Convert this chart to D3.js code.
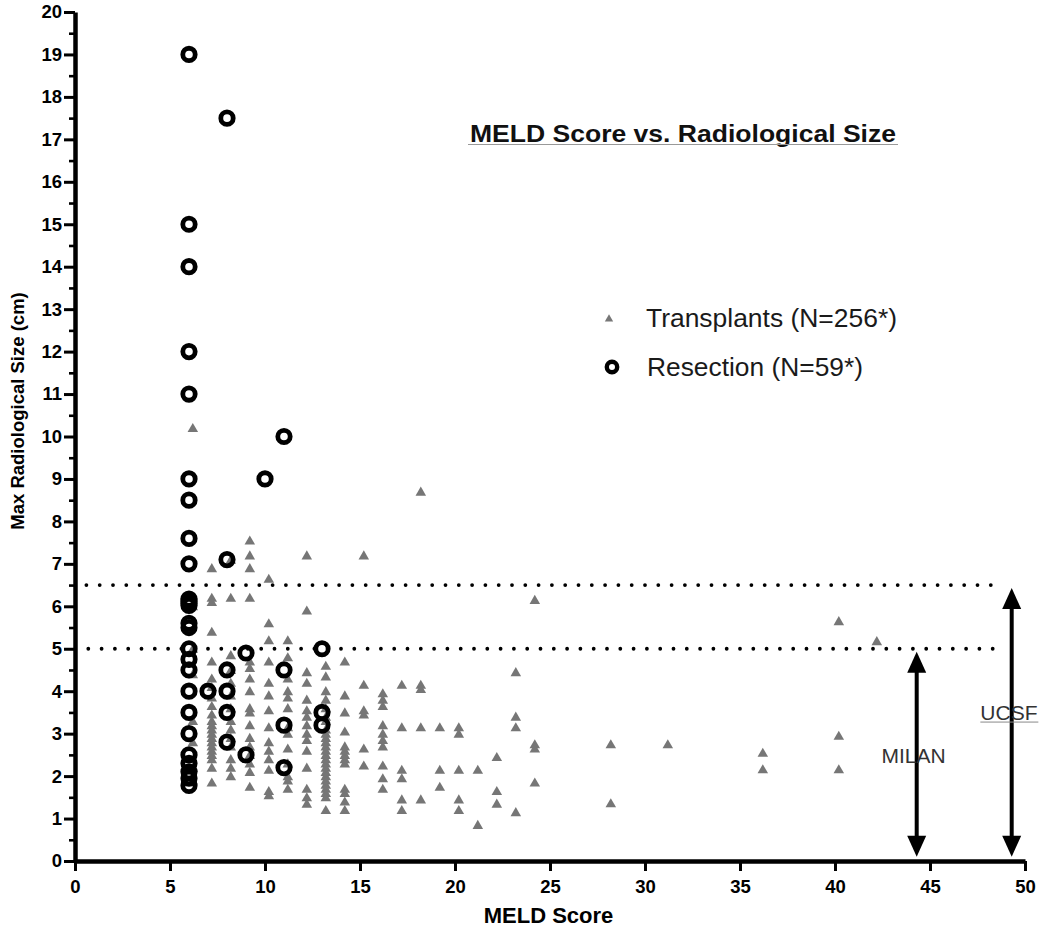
<!DOCTYPE html>
<html><head><meta charset="utf-8">
<script src="https://cdn.jsdelivr.net/npm/d3@7"></script>
<style>
body{margin:0;background:#fff}
svg{display:block}
text{font-family:"Liberation Sans",Arial,Helvetica,sans-serif}
</style>
</head><body>
<svg id="c" width="1050" height="932"></svg>
<script>
// ---------------- data ----------------
const xTicks = [0, 5, 10, 15, 20, 25, 30, 35, 40, 45, 50];
const yTicks = [0,1,2,3,4,5,6,7,8,9,10,11,12,13,14,15,16,17,18,19,20];
const yMinorTicks = [0.5,1.5,2.5,3.5,4.5,5.5,6.5,7.5,8.5,9.5,10.5,11.5,12.5,13.5,14.5,15.5,16.5,17.5,18.5,19.5];

// Transplants: [MELD score, [max radiological sizes]]
const transplantCols = [
  [6.2,  [10.2, 6.0, 5.0, 4.4, 3.3, 2.8, 2.2, 1.9]],
  [7.2,  [6.9, 6.2, 6.1, 5.4, 4.7, 4.3, 4.1, 3.85, 3.65, 3.45, 3.3, 3.2, 3.1, 3.0, 2.9, 2.8, 2.7, 2.6, 2.5, 2.4, 2.2, 1.85]],
  [8.2,  [7.1, 6.2, 4.85, 4.5, 4.2, 3.9, 3.6, 3.3, 3.1, 2.9, 2.7, 2.4, 2.2, 2.0]],
  [9.2,  [7.55, 7.2, 6.9, 6.2, 4.7, 4.55, 4.3, 4.0, 3.6, 3.5, 3.2, 2.9, 2.7, 2.5, 2.3, 2.1, 1.75]],
  [10.2, [6.65, 5.6, 5.2, 4.7, 4.2, 3.9, 3.55, 3.15, 2.8, 2.6, 2.4, 2.15, 1.65, 1.55]],
  [11.2, [5.2, 4.8, 4.3, 4.0, 3.85, 3.6, 3.15, 3.0, 2.65, 2.3, 2.0, 1.9, 1.7]],
  [12.2, [7.2, 5.9, 4.45, 4.2, 3.8, 3.55, 3.4, 3.2, 3.0, 2.85, 2.6, 2.2, 1.7, 1.5, 1.35]],
  [13.2, [4.6, 4.35, 4.0, 3.8, 3.6, 3.4, 3.3, 3.1, 3.0, 2.9, 2.8, 2.7, 2.6, 2.5, 2.4, 2.3, 2.2, 2.1, 2.0, 1.9, 1.8, 1.7, 1.6, 1.5, 1.2]],
  [14.2, [4.7, 3.9, 3.5, 3.05, 2.7, 2.6, 2.5, 2.4, 2.3, 1.7, 1.6, 1.4, 1.2]],
  [15.2, [7.2, 4.15, 3.55, 3.45, 2.65, 2.25]],
  [16.2, [3.95, 3.8, 3.65, 3.2, 3.0, 2.85, 2.7, 2.25, 1.95, 1.7]],
  [17.2, [4.15, 3.15, 2.15, 1.95, 1.45, 1.2]],
  [18.2, [8.7, 4.15, 4.05, 3.15, 1.45]],
  [19.2, [3.15, 2.15, 1.75]],
  [20.2, [3.15, 3.0, 2.15, 1.45, 1.2]],
  [21.2, [2.15, 0.85]],
  [22.2, [2.45, 1.65, 1.35]],
  [23.2, [4.45, 3.4, 3.15, 1.15]],
  [24.2, [6.15, 2.75, 2.65, 1.85]],
  [28.2, [2.75, 1.36]],
  [31.2, [2.75]],
  [36.2, [2.55, 2.16]],
  [40.2, [5.65, 2.95, 2.16]],
  [42.2, [5.18]]
];

// Resection: [MELD score, [max radiological sizes]]
const resectionCols = [
  [6,  [19, 15, 14, 12, 11, 9, 8.5, 7.6, 7.0, 6.17, 6.12, 6.07, 6.02, 5.6, 5.5, 5.0, 4.75, 4.5, 4.0, 3.5, 3.0, 2.5, 2.3, 2.1, 1.95, 1.78]],
  [7,  [4.0]],
  [8,  [17.5, 7.1, 4.5, 4.0, 3.5, 2.8]],
  [9,  [4.9, 2.5]],
  [10, [9.0]],
  [11, [10.0, 4.5, 3.2, 2.2]],
  [13, [5.0, 3.5, 3.2]]
];

// Criteria cut-offs (dotted lines) and arrows
const cutoffs = [ {size: 6.5, from: 0.6, to: 48.85}, {size: 5.0, from: 0.7, to: 48.95} ];
const criteria = [
  {label: "MILAN", meld: 44.3, from: 0.1, to: 4.93, labelMeld: 42.45, labelSize: 2.3, underline: false},
  {label: "UCSF",  meld: 49.3, from: 0.1, to: 6.43, labelMeld: 47.65, labelSize: 3.32, underline: true}
];

const titleText = "MELD Score vs. Radiological Size";
const xLabel = "MELD Score";
const yLabel = "Max Radiological Size (cm)";
const legendItems = ["Transplants (N=256*)", "Resection (N=59*)"];

// ---------------- chart ----------------
const svg = d3.select("#c");
const x = d3.scaleLinear().domain([0, 50]).range([75, 1025]);
const y = d3.scaleLinear().domain([0, 20]).range([861, 12]);

const transplants = transplantCols.flatMap(([m, arr]) => arr.map(s => ({meld: m, size: s})));
const resections = resectionCols.flatMap(([m, arr]) => arr.map(s => ({meld: m, size: s})));

// dotted cutoff lines
svg.append("g").selectAll("line").data(cutoffs).join("line")
  .attr("x1", d => x(d.from)).attr("x2", d => x(d.to))
  .attr("y1", d => y(d.size)).attr("y2", d => y(d.size))
  .attr("stroke", "#000").attr("stroke-width", 3.8)
  .attr("stroke-linecap", "round").attr("stroke-dasharray", "0,13.3");

// transplants triangles
const tri = d3.symbol().type(d3.symbolTriangle).size(48);
svg.append("g").selectAll("path").data(transplants).join("path")
  .attr("d", tri)
  .attr("transform", d => `translate(${x(d.meld)},${y(d.size) + 1})`)
  .attr("fill", "#767676");

// resection circles
svg.append("g").selectAll("circle").data(resections).join("circle")
  .attr("cx", d => x(d.meld)).attr("cy", d => y(d.size))
  .attr("r", 6.2).attr("fill", "none")
  .attr("stroke", "#000").attr("stroke-width", 4.8);

// arrows
const ag = svg.append("g");
criteria.forEach(c => {
  const xp = x(c.meld), yb = y(c.from), yt = y(c.to);
  ag.append("line").attr("x1", xp).attr("x2", xp).attr("y1", yt + 15).attr("y2", yb - 15)
    .attr("stroke", "#000").attr("stroke-width", 4);
  ag.append("path").attr("d", `M${xp},${yt}L${xp - 9.5},${yt + 21}L${xp + 9.5},${yt + 21}Z`).attr("fill", "#000");
  ag.append("path").attr("d", `M${xp},${yb}L${xp - 9.5},${yb - 21}L${xp + 9.5},${yb - 21}Z`).attr("fill", "#000");
  ag.append("text").attr("x", x(c.labelMeld)).attr("y", y(c.labelSize))
    .attr("font-size", 21).attr("fill", "#333").text(c.label);
  if (c.underline) {
    ag.append("line").attr("x1", x(c.labelMeld)).attr("x2", x(c.labelMeld) + 58)
      .attr("y1", y(c.labelSize) + 2).attr("y2", y(c.labelSize) + 2)
      .attr("stroke", "#888").attr("stroke-width", 1);
  }
});

// axes
const yAxis = svg.append("g").attr("transform", `translate(${x(0)},0)`)
  .call(d3.axisLeft(y).tickValues(yTicks).tickSize(11).tickSizeOuter(0).tickPadding(2).tickFormat(d3.format("d")));
svg.append("g").attr("transform", `translate(${x(0)},0)`)
  .call(d3.axisLeft(y).tickValues(yMinorTicks).tickSize(6).tickSizeOuter(0).tickFormat(""))
  .call(g => g.select(".domain").remove())
  .selectAll("line").attr("stroke-width", 2.6);
const xAxis = svg.append("g").attr("transform", `translate(0,${y(0)})`)
  .call(d3.axisBottom(x).tickValues(xTicks).tickSize(10).tickSizeOuter(0).tickPadding(9));

[yAxis, xAxis].forEach(g => {
  g.select(".domain").attr("stroke-width", 4.5).attr("stroke", "#000");
  g.selectAll(".tick line").attr("stroke-width", 3).attr("stroke", "#000");
  g.selectAll(".tick text").attr("font-size", 18.5).attr("font-weight", "bold")
    .attr("fill", "#000").style("font-family", '"Liberation Sans",Arial,sans-serif');
});

// axis titles
svg.append("text").attr("x", (x(0) + x(50)) / 2 - 1.5).attr("y", 923)
  .attr("text-anchor", "middle").attr("font-size", 22).attr("font-weight", "bold").text(xLabel);
svg.append("text").attr("transform", "translate(24,411) rotate(-90)")
  .attr("text-anchor", "middle").attr("font-size", 18.5).attr("font-weight", "bold").text(yLabel);

// title
svg.append("text").attr("x", 470).attr("y", 141.5).attr("font-size", 24).attr("font-weight", "bold")
  .attr("textLength", 426).attr("lengthAdjust", "spacingAndGlyphs").attr("fill", "#111").text(titleText);
svg.append("line").attr("x1", 468).attr("x2", 898).attr("y1", 144.5).attr("y2", 144.5)
  .attr("stroke", "#999").attr("stroke-width", 1.2);

// legend
const lg = svg.append("g");
lg.append("path").attr("d", d3.symbol().type(d3.symbolTriangle).size(30)).attr("transform", "translate(609,319)").attr("fill", "#777");
lg.append("text").attr("x", 646).attr("y", 327).attr("font-size", 25).attr("fill", "#1a1a1a")
  .attr("textLength", 251).attr("lengthAdjust", "spacingAndGlyphs").text(legendItems[0]);
lg.append("circle").attr("cx", 612).attr("cy", 367).attr("r", 5.2).attr("fill", "none").attr("stroke", "#000").attr("stroke-width", 4.4);
lg.append("text").attr("x", 647).attr("y", 376).attr("font-size", 25).attr("fill", "#1a1a1a")
  .attr("textLength", 216).attr("lengthAdjust", "spacingAndGlyphs").text(legendItems[1]);
</script>
</body></html>
